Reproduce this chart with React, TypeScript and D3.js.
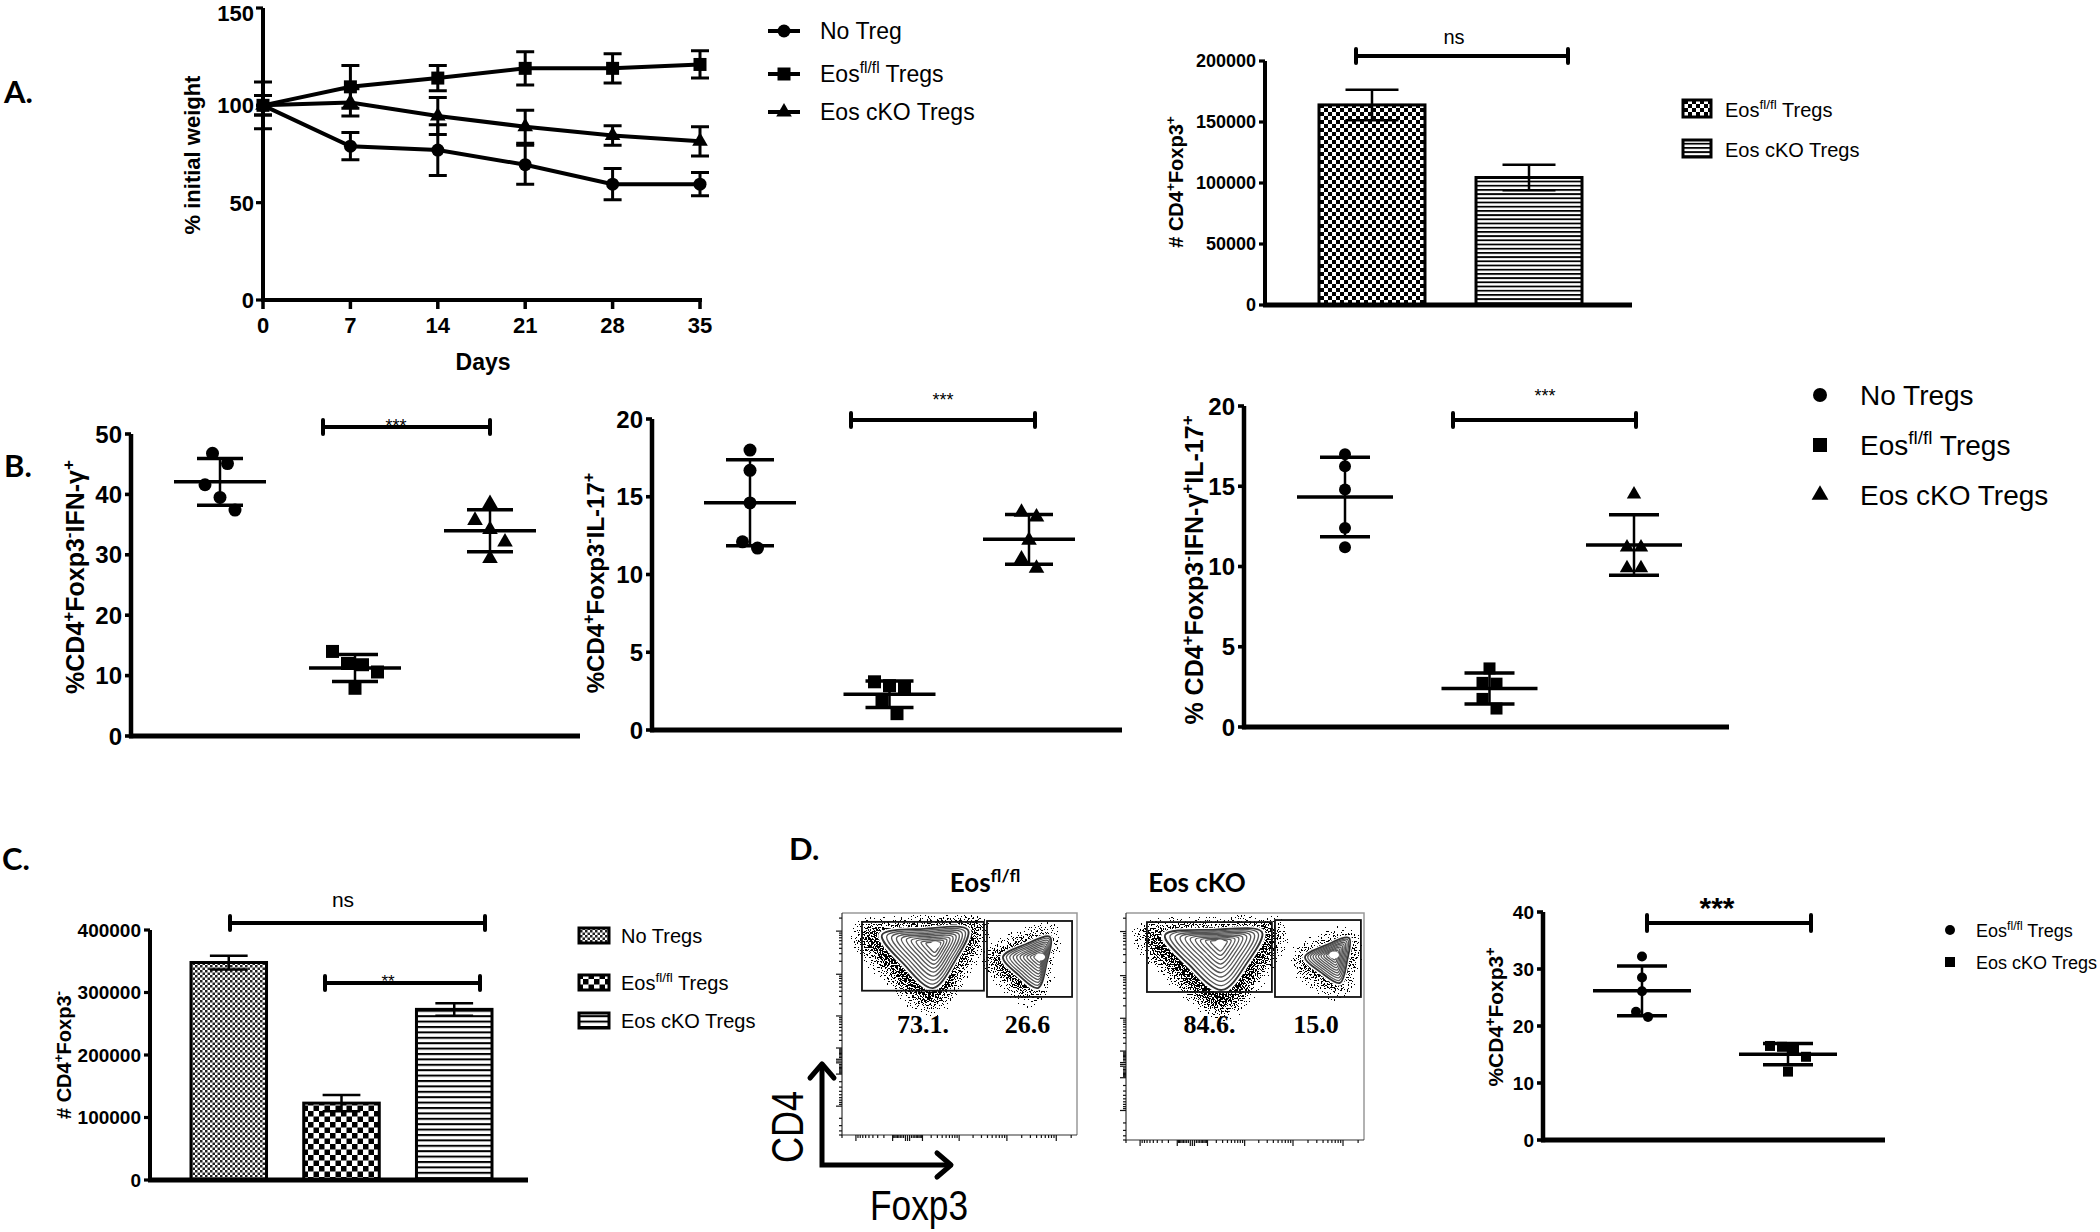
import React from "react";
import * as d3 from "d3";

const W = 2100;
const H = 1232;
const SANS = "'Liberation Sans', Arial, Helvetica, sans-serif";
const HEAD = "Lato, 'Open Sans', sans-serif";
const SERIF = "'Liberation Serif', 'Times New Roman', serif";

// ---------- Panel A: weight curve ----------
const weightDays = [0, 7, 14, 21, 28, 35];
const weightTicks = [0, 50, 100, 150];
const weightNoTreg = [100, 79, 77, 69.5, 59.5, 59.5];
const weightNoTregErr = [12, 7, 13, 10, 8, 6];
const weightEosFl = [100, 109.5, 114, 119, 119, 121];
const weightEosFlErr = [5, 11, 6.5, 8.5, 7.5, 7];
const weightEosCko = [100, 101.5, 94.5, 89, 84.5, 81.5];
const weightEosCkoErr = [5, 7, 9.5, 8.5, 5, 7.5];
const weightLegend = ["No Treg", "Eos^{fl/fl} Tregs", "Eos cKO Tregs"];

// ---------- Panel A: CD4+Foxp3+ counts ----------
const tregGroups = ["Eos^{fl/fl} Tregs", "Eos cKO Tregs"];
const tregMeans = [164000, 104500];
const tregErr = [12500, 10500];
const tregTicks = [0, 50000, 100000, 150000, 200000];

// ---------- Panel B ----------
const bGroups = ["No Tregs", "Eos^{fl/fl}  Tregs", "Eos cKO Tregs"];
const ifnNoTreg = [46.8, 45.1, 41.6, 39.5, 37.4];
const ifnEosFl = [14.0, 12.0, 11.8, 10.6, 7.9];
const ifnEosCko = [38.5, 35.7, 34.2, 32.1, 29.4];
const ifnTicks = [0, 10, 20, 30, 40, 50];
const il17NoTreg = [18.0, 16.7, 14.6, 12.1, 11.7];
const il17EosFl = [3.1, 2.85, 2.7, 1.8, 1.05];
const il17EosCko = [14.0, 13.7, 12.2, 11.0, 10.4];
const il17Ticks = [0, 5, 10, 15, 20];
const dpNoTreg = [17.0, 16.25, 14.8, 12.4, 11.2];
const dpEosFl = [3.65, 2.75, 2.7, 1.75, 1.15];
const dpEosCko = [14.5, 11.2, 11.2, 9.9, 9.9];
const dpTicks = [0, 5, 10, 15, 20];

// ---------- Panel C ----------
const cGroups = ["No Tregs", "Eos^{fl/fl} Tregs", "Eos cKO Tregs"];
const cMeans = [348000, 123000, 273000];
const cErr = [11000, 13000, 10000];
const cTicks = [0, 100000, 200000, 300000, 400000];

// ---------- Panel D ----------
const flowSamples = ["Eos^{fl/fl}", "Eos cKO"];
const flowFoxp3Neg = ["73.1.", "84.6."];
const flowFoxp3Pos = ["26.6", "15.0"];
const dGroups = ["Eos^{fl/fl} Tregs", "Eos cKO Tregs"];
const dEosFl = [32.2, 28.5, 26.1, 22.5, 21.6];
const dEosCko = [16.5, 16.35, 15.8, 14.6, 12.0];
const dTicks = [0, 10, 20, 30, 40];

type Mk = "circle" | "square" | "triangle";

function symPath(t: Mk, size: number): string {
  const type = t === "circle" ? d3.symbolCircle : t === "square" ? d3.symbolSquare : d3.symbolTriangle;
  const area =
    t === "circle" ? Math.PI * (size / 2) ** 2 : t === "square" ? size * size : (Math.sqrt(3) / 4) * (size * 1.2) ** 2;
  return d3.symbol().type(type).size(area)() as string;
}

function Rich({ s, fs }: { s: string; fs: number }) {
  const out: React.ReactNode[] = [];
  const re = /\^\{([^}]*)\}/g;
  let last = 0;
  let up = false;
  let k = 0;
  let m: RegExpExecArray | null;
  const sh = fs * 0.4;
  while ((m = re.exec(s))) {
    if (m.index > last) {
      out.push(
        <tspan key={k++} dy={up ? sh : 0}>
          {s.slice(last, m.index)}
        </tspan>
      );
      up = false;
    }
    out.push(
      <tspan key={k++} dy={up ? 0 : -sh} fontSize={fs * 0.68}>
        {m[1]}
      </tspan>
    );
    up = true;
    last = re.lastIndex;
  }
  if (last < s.length)
    out.push(
      <tspan key={k++} dy={up ? sh : 0}>
        {s.slice(last)}
      </tspan>
    );
  return <>{out}</>;
}

function T(p: {
  x: number;
  y: number;
  fs: number;
  s: string;
  anchor?: "start" | "middle" | "end";
  weight?: string | number;
  family?: string;
  rot?: number;
  sx?: number;
  fill?: string;
}) {
  const { x, y, fs, s, anchor = "start", weight = "normal", family = SANS, rot = 0, sx = 1, fill = "#000" } = p;
  return (
    <text
      transform={`translate(${x},${y}) rotate(${rot}) scale(${sx},1)`}
      fontSize={fs}
      fontFamily={family}
      fontWeight={weight}
      textAnchor={anchor}
      fill={fill}
    >
      <Rich s={s} fs={fs} />
    </text>
  );
}

function YAxis(p: {
  scale: d3.ScaleLinear<number, number>;
  x: number;
  ticks: number[];
  fs: number;
  tickLen?: number;
  width?: number;
  gap?: number;
  minLabelY?: number;
}) {
  const { scale, x, ticks, fs, tickLen = 7, width = 4, gap = 4, minLabelY = 0 } = p;
  const [r0, r1] = scale.range();
  return (
    <g>
      <line x1={x} x2={x} y1={r0 + width / 2} y2={r1} stroke="#000" strokeWidth={width} />
      {ticks.map((t) => (
        <g key={t}>
          <line x1={x - tickLen} x2={x} y1={scale(t)} y2={scale(t)} stroke="#000" strokeWidth={width * 0.8} />
          <text
            x={x - tickLen - gap}
            y={Math.max(scale(t), minLabelY)}
            dy="0.36em"
            textAnchor="end"
            fontSize={fs}
            fontWeight="bold"
            fontFamily={SANS}
          >
            {t}
          </text>
        </g>
      ))}
    </g>
  );
}

function Bracket(p: { x1: number; x2: number; y: number; h: number; text: string; tx: number; ty: number; fs: number; bold?: boolean }) {
  return (
    <g>
      <path
        d={`M${p.x1},${p.y - p.h}V${p.y + p.h}M${p.x1},${p.y}H${p.x2}M${p.x2},${p.y - p.h}V${p.y + p.h}`}
        stroke="#000"
        strokeWidth={4}
        strokeLinecap="round"
        fill="none"
      />
      <text x={p.tx} y={p.ty} textAnchor="middle" fontSize={p.fs} fontFamily={SANS} fontWeight={p.bold ? "bold" : "normal"}>
        {p.text}
      </text>
    </g>
  );
}

// ---------------- Panel A line chart ----------------
function WeightPanel() {
  const x = d3.scaleLinear().domain([0, 35]).range([263, 700]);
  const y = d3.scaleLinear().domain([0, 150]).range([300, 8]);
  const series: { m: number[]; e: number[]; mk: Mk }[] = [
    { m: weightNoTreg, e: weightNoTregErr, mk: "circle" },
    { m: weightEosFl, e: weightEosFlErr, mk: "square" },
    { m: weightEosCko, e: weightEosCkoErr, mk: "triangle" },
  ];
  const line = d3
    .line<number>()
    .x((_, i) => x(weightDays[i]))
    .y((d) => y(d));
  const legendY = [31, 74, 112];
  return (
    <g>
      <YAxis scale={y} x={263} ticks={weightTicks} fs={22} tickLen={7} gap={2} minLabelY={13} />
      <line x1={261} x2={702} y1={300} y2={300} stroke="#000" strokeWidth={4} />
      {weightDays.map((d) => (
        <g key={d}>
          <line x1={x(d)} x2={x(d)} y1={300} y2={309} stroke="#000" strokeWidth={3.5} />
          <text x={x(d)} y={333} textAnchor="middle" fontSize={22} fontWeight="bold" fontFamily={SANS}>
            {d}
          </text>
        </g>
      ))}
      <T x={483} y={370} fs={23} s="Days" anchor="middle" weight="bold" />
      <T x={200} y={155} fs={22} s="% initial weight" anchor="middle" weight="bold" rot={-90} />
      {series.map((s, si) => (
        <g key={si}>
          <path d={line(s.m) as string} fill="none" stroke="#000" strokeWidth={4} />
          {s.m.map((v, i) => (
            <path
              key={i}
              d={`M${x(weightDays[i]) - 9},${y(v + s.e[i])}H${x(weightDays[i]) + 9}M${x(weightDays[i])},${y(v + s.e[i])}V${y(
                v - s.e[i]
              )}M${x(weightDays[i]) - 9},${y(v - s.e[i])}H${x(weightDays[i]) + 9}`}
              stroke="#000"
              strokeWidth={3}
              fill="none"
            />
          ))}
          {s.m.map((v, i) => (
            <path key={"m" + i} d={symPath(s.mk, 13)} transform={`translate(${x(weightDays[i])},${y(v)})`} fill="#000" />
          ))}
        </g>
      ))}
      {weightLegend.map((l, i) => (
        <g key={l}>
          <line x1={768} x2={800} y1={legendY[i]} y2={legendY[i]} stroke="#000" strokeWidth={4} />
          <path d={symPath(series[i].mk, 13)} transform={`translate(784,${legendY[i]})`} fill="#000" />
          <T x={820} y={legendY[i] + 8} fs={23} s={l} />
        </g>
      ))}
    </g>
  );
}

// ---------------- Bar panels ----------------
function BarPanel(p: {
  groups: string[];
  means: number[];
  errs: number[];
  fills: string[];
  band: [number, number];
  padInner: number;
  yRange: [number, number];
  yMax: number;
  ticks: number[];
  axisX: number;
  axisEnd: number;
  tickFs: number;
  label: string;
  labelX: number;
  labelY: number;
  labelFs: number;
}) {
  const x = d3.scaleBand().domain(p.groups).range(p.band).paddingInner(p.padInner).paddingOuter(0);
  const y = d3.scaleLinear().domain([0, p.yMax]).range(p.yRange);
  const bw = x.bandwidth();
  return (
    <g>
      {p.groups.map((g, i) => {
        const x0 = x(g) as number;
        const cx = x0 + bw / 2;
        const cap = bw * 0.25;
        return (
          <g key={g}>
            <rect x={x0} y={y(p.means[i])} width={bw} height={y(0) - y(p.means[i])} fill={p.fills[i]} stroke="#000" strokeWidth={3} />
            <path
              d={`M${cx - cap},${y(p.means[i] + p.errs[i])}H${cx + cap}M${cx},${y(p.means[i] + p.errs[i])}V${y(
                p.means[i] - p.errs[i]
              )}M${cx - cap},${y(p.means[i] - p.errs[i])}H${cx + cap}`}
              stroke="#000"
              strokeWidth={2.5}
              fill="none"
            />
          </g>
        );
      })}
      <YAxis scale={y} x={p.axisX} ticks={p.ticks} fs={p.tickFs} tickLen={6} gap={3} width={4} />
      <line x1={p.axisX - 2} x2={p.axisEnd} y1={p.yRange[0]} y2={p.yRange[0]} stroke="#000" strokeWidth={5} />
      <T x={p.labelX} y={p.labelY} fs={p.labelFs} s={p.label} anchor="middle" weight="bold" rot={-90} />
    </g>
  );
}

// ---------------- Dot (scatter) panels ----------------
function layoutGroup(vals: number[], cx: number, y: (v: number) => number, size: number, gap: number) {
  const sorted = vals.map((v) => ({ v, y: y(v) })).sort((a, b) => a.y - b.y);
  const rows: { v: number; y: number }[][] = [];
  for (const pt of sorted) {
    const row = rows[rows.length - 1];
    if (row && pt.y - row[row.length - 1].y < size) row.push(pt);
    else rows.push([pt]);
  }
  const out: { v: number; x: number; y: number }[] = [];
  rows.forEach((row) => row.forEach((pt, j) => out.push({ v: pt.v, x: cx + (j - (row.length - 1) / 2) * gap, y: pt.y })));
  return out;
}

function DotPanel(p: {
  groups: string[];
  values: number[][];
  markers: Mk[];
  centers: [number, number];
  yRange: [number, number];
  yMax: number;
  ticks: number[];
  axisX: number;
  axisEnd: number;
  size: number;
  meanHalf: number;
  sdHalf: number;
  tickFs: number;
  label: string;
  labelX: number;
  labelY: number;
  labelFs: number;
}) {
  const x = d3.scalePoint().domain(p.groups).range(p.centers);
  const y = d3.scaleLinear().domain([0, p.yMax]).range(p.yRange);
  return (
    <g>
      {p.groups.map((g, i) => {
        const cx = x(g) as number;
        const vals = p.values[i];
        const mean = d3.mean(vals) as number;
        const sd = d3.deviation(vals) as number;
        const pts = layoutGroup(vals, cx, y, p.size, p.size + 2);
        return (
          <g key={g}>
            {pts.map((pt, j) => (
              <path key={j} d={symPath(p.markers[i], p.size)} transform={`translate(${pt.x},${pt.y})`} fill="#000" />
            ))}
            <path
              d={`M${cx - p.meanHalf},${y(mean)}H${cx + p.meanHalf}M${cx - p.sdHalf},${y(mean + sd)}H${cx + p.sdHalf}M${
                cx - p.sdHalf
              },${y(mean - sd)}H${cx + p.sdHalf}`}
              stroke="#000"
              strokeWidth={3.5}
              fill="none"
            />
            <line x1={cx} x2={cx} y1={y(mean + sd)} y2={y(mean - sd)} stroke="#000" strokeWidth={2.5} />
          </g>
        );
      })}
      <YAxis scale={y} x={p.axisX} ticks={p.ticks} fs={p.tickFs} tickLen={6} gap={3} width={4.5} />
      <line x1={p.axisX - 2} x2={p.axisEnd} y1={p.yRange[0]} y2={p.yRange[0]} stroke="#000" strokeWidth={5} />
      <T x={p.labelX} y={p.labelY} fs={p.labelFs} s={p.label} anchor="middle" weight="bold" rot={-90} />
    </g>
  );
}

// ---------------- Flow plots ----------------
type Pop = { v: [number, number][]; peak: [number, number] };
const flowPops: Pop[][] = [
  [
    { v: [[0.17, 0.099], [0.536, 0.077], [0.387, 0.338]], peak: [0.396, 0.144] },
    { v: [[0.685, 0.198], [0.885, 0.108], [0.834, 0.338]], peak: [0.843, 0.198] },
  ],
  [
    { v: [[0.164, 0.097], [0.571, 0.084], [0.403, 0.339]], peak: [0.395, 0.132] },
    { v: [[0.752, 0.194], [0.937, 0.11], [0.899, 0.308]], peak: [0.874, 0.185] },
  ],
];
const flowGates: [number, number, number, number][][] = [
  [
    [0.085, 0.04, 0.604, 0.35],
    [0.617, 0.036, 0.979, 0.378],
  ],
  [
    [0.088, 0.04, 0.613, 0.348],
    [0.626, 0.031, 0.987, 0.37],
  ],
];

function roundedTri(vpx: [number, number][], peak: [number, number], t: number) {
  const pts = vpx.map(([a, b]) => [peak[0] + (a - peak[0]) * t, peak[1] + (b - peak[1]) * t] as [number, number]);
  const cx = d3.mean(pts, (q) => q[0]) as number;
  const cy = d3.mean(pts, (q) => q[1]) as number;
  const ring: [number, number][] = [];
  for (let i = 0; i < 3; i++) {
    const a = pts[i];
    const b = pts[(i + 1) % 3];
    ring.push(a);
    const m = [(a[0] + b[0]) / 2, (a[1] + b[1]) / 2];
    ring.push([m[0] + (m[0] - cx) * 0.2, m[1] + (m[1] - cy) * 0.2]);
  }
  return d3.line().curve(d3.curveCatmullRomClosed.alpha(0.5))(ring) as string;
}

const flowTickVals = (() => {
  const t: { v: number; major: boolean }[] = [{ v: 0, major: true }];
  for (let e = 1; e <= 5; e++)
    for (let m = 1; m <= 9; m++) {
      t.push({ v: m * 10 ** e, major: m === 1 });
      t.push({ v: -m * 10 ** e, major: m === 1 });
    }
  return t;
})();

function FlowPlot(p: { idx: number; x0: number; x1: number; y0: number; y1: number; title: string; titleX: number; numY: number }) {
  const { idx, x0, x1, y0, y1 } = p;
  const sx = d3.scaleLinear().domain([0, 1]).range([x0, x1]);
  const sy = d3.scaleLinear().domain([0, 1]).range([y0, y1]);
  const ax = d3.scaleSymlog().constant(100).domain([-2000, 262144]).range([x0, x1]);
  const ay = d3.scaleSymlog().constant(100).domain([-5000, 262144]).range([y1, y0]);
  const gates = flowGates[idx];
  const pops = flowPops[idx];
  const clipId = `flowclip${idx}`;
  return (
    <g>
      <defs>
        <clipPath id={clipId}>
          <rect x={x0 + 2} y={y0 + 2} width={x1 - x0 - 4} height={y1 - y0 - 4} />
        </clipPath>
      </defs>
      <g clipPath={`url(#${clipId})`}>
        {pops.map((pop, i) => {
          const v = pop.v.map(([a, b]) => [sx(a), sy(b)] as [number, number]);
          const pk: [number, number] = [sx(pop.peak[0]), sy(pop.peak[1])];
          return (
            <g key={"h" + i}>
              <path d={roundedTri(v, pk, 1.6)} fill="#000" filter="url(#speckle)" />
            </g>
          );
        })}
        {pops.map((pop, i) => {
          const v = pop.v.map(([a, b]) => [sx(a), sy(b)] as [number, number]);
          const pk: [number, number] = [sx(pop.peak[0]), sy(pop.peak[1])];
          const levels = d3.range(10).map((k) => 1 - k * 0.092);
          return (
            <g key={"c" + i}>
              <path d={roundedTri(v, pk, 1.04)} fill="#fff" stroke="#fff" strokeWidth={3} />
              {levels.map((t, k) => (
                <path
                  key={k}
                  d={roundedTri(v, pk, t)}
                  fill="none"
                  stroke={k === 0 ? "#333" : "#555"}
                  strokeWidth={k === 0 ? 1.8 : 1.3}
                />
              ))}
              <ellipse cx={pk[0]} cy={pk[1]} rx={5} ry={3.5} fill="#fff" />
            </g>
          );
        })}
      </g>
      {gates.map((g, i) => (
        <rect key={i} x={sx(g[0])} y={sy(g[1])} width={sx(g[2]) - sx(g[0])} height={sy(g[3]) - sy(g[1])} fill="none" stroke="#111" strokeWidth={1.8} />
      ))}
      <path d={`M${x0},${y0}H${x1}V${y1}`} fill="none" stroke="#999" strokeWidth={1.5} />
      <path d={`M${x0},${y0}V${y1}H${x1}`} fill="none" stroke="#333" strokeWidth={1.2} />
      {flowTickVals
        .filter((t) => t.v >= -5000 && t.v <= 262144)
        .map((t, i) => (
          <line key={"ly" + i} x1={x0 - (t.major ? 6 : 3)} x2={x0} y1={ay(t.v)} y2={ay(t.v)} stroke="#111" strokeWidth={1.2} />
        ))}
      {flowTickVals
        .filter((t) => t.v >= -2000 && t.v <= 262144)
        .map((t, i) => (
          <line key={"lx" + i} x1={ax(t.v)} x2={ax(t.v)} y1={y1} y2={y1 + (t.major ? 6 : 3)} stroke="#111" strokeWidth={1.2} />
        ))}
      <T x={p.titleX} y={892} fs={26} s={p.title} anchor="middle" weight="bold" family={HEAD} />
      <T x={sx((gates[0][0] + gates[0][2]) / 2)} y={p.numY} fs={26} s={flowFoxp3Neg[idx]} anchor="middle" weight="bold" family={SERIF} />
      <T x={sx((gates[1][0] + gates[1][2]) / 2) - 2} y={p.numY} fs={26} s={flowFoxp3Pos[idx]} anchor="middle" weight="bold" family={SERIF} />
    </g>
  );
}

export default function App() {
  const bMarkers: Mk[] = ["circle", "square", "triangle"];
  return (
    <svg width={W} height={H} viewBox={`0 0 ${W} ${H}`} style={{ position: "absolute", left: 0, top: 0, background: "#fff" }}>
      <defs>
        <pattern id="chk4" width={8} height={8} patternUnits="userSpaceOnUse">
          <rect width={8} height={8} fill="#fff" />
          <rect width={4} height={4} fill="#000" />
          <rect x={4} y={4} width={4} height={4} fill="#000" />
        </pattern>
        <pattern id="chk6" width={11} height={11} patternUnits="userSpaceOnUse">
          <rect width={11} height={11} fill="#fff" />
          <rect width={5.5} height={5.5} fill="#000" />
          <rect x={5.5} y={5.5} width={5.5} height={5.5} fill="#000" />
        </pattern>
        <pattern id="chk2" width={5} height={5} patternUnits="userSpaceOnUse">
          <rect width={5} height={5} fill="#fff" />
          <rect width={2.5} height={2.5} fill="#222" />
          <rect x={2.5} y={2.5} width={2.5} height={2.5} fill="#222" />
        </pattern>
        <pattern id="str4" width={4.2} height={4.2} patternUnits="userSpaceOnUse">
          <rect width={4.2} height={4.2} fill="#fff" />
          <rect width={4.2} height={1.8} fill="#000" />
        </pattern>
        <pattern id="str5" width={5.4} height={5.4} patternUnits="userSpaceOnUse">
          <rect width={5.4} height={5.4} fill="#fff" />
          <rect width={5.4} height={2} fill="#000" />
        </pattern>
        <filter id="speckle" x="-40%" y="-40%" width="180%" height="180%">
          <feGaussianBlur in="SourceGraphic" stdDeviation="11" result="blur" />
          <feTurbulence type="fractalNoise" baseFrequency="0.7" numOctaves="1" seed="7" result="noise" />
          <feColorMatrix in="noise" type="matrix" values="0 0 0 0 0  0 0 0 0 0  0 0 0 0 0  2.6 0 0 0 -0.8" result="na" />
          <feComposite in="blur" in2="na" operator="arithmetic" k1="0" k2="1" k3="1" k4="-0.78" result="sum" />
          <feComponentTransfer in="sum">
            <feFuncA type="discrete" tableValues="0 1" />
          </feComponentTransfer>
        </filter>
      </defs>
      <rect width={W} height={H} fill="#fff" />

      {/* Panel letters */}
      <T x={4} y={103} fs={31} s="A." weight="bold" family={HEAD} />
      <T x={4} y={477} fs={31} s="B." weight="bold" family={HEAD} />
      <T x={2} y={870} fs={31} s="C." weight="bold" family={HEAD} />
      <T x={789} y={860} fs={31} s="D." weight="bold" family={HEAD} />

      {/* A: weight */}
      <WeightPanel />

      {/* A: Treg counts */}
      <BarPanel
        groups={tregGroups}
        means={tregMeans}
        errs={tregErr}
        fills={["url(#chk4)", "url(#str4)"]}
        band={[1319, 1582]}
        padInner={0.325}
        yRange={[305, 61]}
        yMax={200000}
        ticks={tregTicks}
        axisX={1265}
        axisEnd={1632}
        tickFs={18}
        label="# CD4^{+}Foxp3^{+}"
        labelX={1183}
        labelY={182}
        labelFs={20}
      />
      <Bracket x1={1356} x2={1568} y={56} h={7} text="ns" tx={1454} ty={44} fs={20} />
      {tregGroups.map((g, i) => (
        <g key={g}>
          <rect x={1683} y={100 + i * 40} width={28} height={17} fill={i === 0 ? "url(#chk4)" : "url(#str4)"} stroke="#000" strokeWidth={3} />
          <T x={1725} y={117 + i * 40} fs={20} s={g} />
        </g>
      ))}

      {/* B panels */}
      <DotPanel
        groups={bGroups}
        values={[ifnNoTreg, ifnEosFl, ifnEosCko]}
        markers={bMarkers}
        centers={[220, 490]}
        yRange={[736, 434]}
        yMax={50}
        ticks={ifnTicks}
        axisX={131}
        axisEnd={580}
        size={13}
        meanHalf={46}
        sdHalf={23}
        tickFs={24}
        label="%CD4^{+}Foxp3^{-}IFN-γ^{+}"
        labelX={84}
        labelY={577}
        labelFs={25}
      />
      <Bracket x1={323} x2={490} y={427} h={7} text="***" tx={396} ty={432} fs={18} />
      <DotPanel
        groups={bGroups}
        values={[il17NoTreg, il17EosFl, il17EosCko]}
        markers={bMarkers}
        centers={[750, 1029]}
        yRange={[730, 419]}
        yMax={20}
        ticks={il17Ticks}
        axisX={652}
        axisEnd={1122}
        size={13}
        meanHalf={46}
        sdHalf={24}
        tickFs={24}
        label="%CD4^{+}Foxp3^{-}IL-17^{+}"
        labelX={604}
        labelY={583}
        labelFs={24}
      />
      <Bracket x1={851} x2={1035} y={420} h={7} text="***" tx={943} ty={406} fs={18} />
      <DotPanel
        groups={bGroups}
        values={[dpNoTreg, dpEosFl, dpEosCko]}
        markers={bMarkers}
        centers={[1345, 1634]}
        yRange={[727, 406]}
        yMax={20}
        ticks={dpTicks}
        axisX={1244}
        axisEnd={1729}
        size={12}
        meanHalf={48}
        sdHalf={25}
        tickFs={24}
        label="% CD4^{+}Foxp3^{-}IFN-γ^{+}IL-17^{+}"
        labelX={1203}
        labelY={570}
        labelFs={25}
      />
      <Bracket x1={1453} x2={1636} y={420} h={7} text="***" tx={1545} ty={402} fs={18} />
      {bGroups.map((g, i) => (
        <g key={g}>
          <path d={symPath(bMarkers[i], 14)} transform={`translate(1820,${395 + i * 50})`} fill="#000" />
          <T x={1860} y={405 + i * 50} fs={28} s={g} />
        </g>
      ))}

      {/* C */}
      <BarPanel
        groups={cGroups}
        means={cMeans}
        errs={cErr}
        fills={["url(#chk2)", "url(#chk6)", "url(#str5)"]}
        band={[191, 492]}
        padInner={0.33}
        yRange={[1180, 930]}
        yMax={400000}
        ticks={cTicks}
        axisX={150}
        axisEnd={528}
        tickFs={19}
        label="# CD4^{+}Foxp3^{-}"
        labelX={71}
        labelY={1055}
        labelFs={20}
      />
      <Bracket x1={230} x2={485} y={923} h={7} text="ns" tx={343} ty={907} fs={21} />
      <Bracket x1={325} x2={480} y={983} h={7} text="**" tx={388} ty={987} fs={17} />
      {cGroups.map((g, i) => {
        const yy = [928, 975, 1013][i];
        return (
          <g key={g}>
            <rect x={579} y={yy} width={30} height={15} fill={["url(#chk2)", "url(#chk6)", "url(#str5)"][i]} stroke="#000" strokeWidth={3} />
            <T x={621} y={yy + 15} fs={20} s={g} />
          </g>
        );
      })}

      {/* D flow */}
      <FlowPlot idx={0} x0={842} x1={1077} y0={913} y1={1135} title={flowSamples[0]} titleX={985} numY={1033} />
      <FlowPlot idx={1} x0={1126} x1={1364} y0={913} y1={1140} title={flowSamples[1]} titleX={1197} numY={1033} />
      <path d="M822,1065V1165H950" fill="none" stroke="#000" strokeWidth={5} />
      <path d="M810,1078L822,1064L834,1078M937,1153L951,1165L937,1177" fill="none" stroke="#000" strokeWidth={5} strokeLinecap="round" strokeLinejoin="round" />
      <T x={803} y={1127} fs={44} s="CD4" anchor="middle" rot={-90} sx={0.82} />
      <T x={870} y={1220} fs={42} s="Foxp3" sx={0.84} />

      {/* D scatter */}
      <DotPanel
        groups={dGroups}
        values={[dEosFl, dEosCko]}
        markers={["circle", "square"]}
        centers={[1642, 1788]}
        yRange={[1140, 912]}
        yMax={40}
        ticks={dTicks}
        axisX={1543}
        axisEnd={1885}
        size={10}
        meanHalf={49}
        sdHalf={25}
        tickFs={19}
        label="%CD4^{+}Foxp3^{+}"
        labelX={1503}
        labelY={1017}
        labelFs={21}
      />
      <Bracket x1={1647} x2={1811} y={923} h={8} text="***" tx={1717} ty={918} fs={30} bold />
      {dGroups.map((g, i) => (
        <g key={g}>
          <path d={symPath(i === 0 ? "circle" : "square", 10)} transform={`translate(1950,${930 + i * 32})`} fill="#000" />
          <T x={1976} y={937 + i * 32} fs={18} s={g} />
        </g>
      ))}
    </svg>
  );
}
